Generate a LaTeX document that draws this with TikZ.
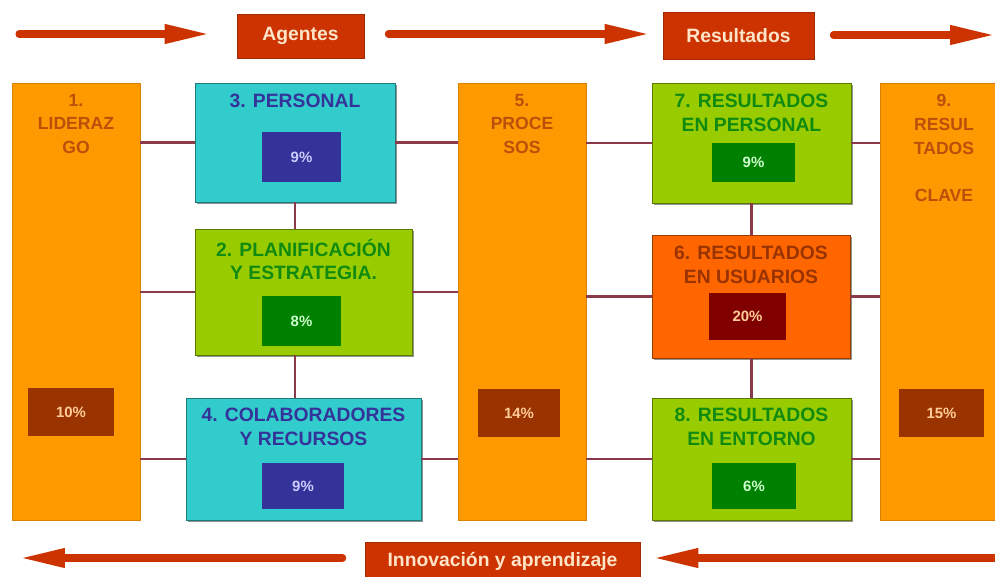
\documentclass[tikz,border=0pt]{standalone}
\usepackage{fontspec}
\setmainfont{Liberation Sans}
\usetikzlibrary{arrows.meta,positioning,shadows}

\definecolor{colorange}{HTML}{FF9900}
\definecolor{coltext}{HTML}{BA500C}
\definecolor{colbrown}{HTML}{993300}
\definecolor{pctlight}{HTML}{FFCC99}
\definecolor{cyanbox}{HTML}{33CCCC}
\definecolor{bluetxt}{HTML}{333399}
\definecolor{bluelight}{HTML}{CCCCFF}
\definecolor{greenbox}{HTML}{99CC00}
\definecolor{greentxt}{HTML}{118A11}
\definecolor{greendark}{HTML}{008000}
\definecolor{greenlight}{HTML}{CCFFCC}
\definecolor{usubox}{HTML}{FF6600}
\definecolor{usudark}{HTML}{800000}
\definecolor{headred}{HTML}{CC3300}
\definecolor{headtext}{HTML}{FFE4C8}
\definecolor{linkred}{HTML}{8B3A4A}

\begin{document}
\begin{tikzpicture}[x=0.02cm, y=-0.02cm,
    column/.style={fill=colorange, draw=colorange!85!black, line width=0.5pt,
                   minimum width=2.56cm, minimum height=8.74cm},
    coltitle/.style={text=coltext, align=center, inner sep=0pt,
                     font=\bfseries\fontsize{10}{13.6}\selectfont},
    block/.style={fill=#1, draw=#1!60!black, line width=0.5pt,
                  drop shadow={shadow xshift=1.2pt, shadow yshift=-1.2pt,
                               fill=black!70, opacity=0.6}},
    title/.style={align=center, inner sep=0pt,
                  font=\bfseries\fontsize{11}{13.6}\selectfont},
    pct/.style={fill=#1, inner sep=0pt, minimum width=1.72cm, minimum height=0.96cm,
                font=\bfseries\fontsize{8.5}{10}\selectfont},
    head/.style={fill=headred, draw=headred!80!black, text=headtext, inner sep=0pt,
                 font=\bfseries\fontsize{11}{13}\selectfont},
    arrow/.style={draw=headred, line width=4pt, line cap=round,
                  -{Triangle[length=0.9cm,width=0.36cm]}},
    link/.style={draw=linkred, line width=1.2pt},
   ]
    \clip (0,0) rectangle (995,576);
    \fill[white] (0,0) rectangle (995,576);

    % Top and bottom bands ---------------------------------------------
    \node[head, minimum width=2.54cm, minimum height=0.88cm] (agentes) at (300.5,36) {Agentes};
    \node[head, minimum width=3.02cm, minimum height=0.94cm] (resultados) at (738.5,36) {Resultados};
    \node[head, minimum width=5.5cm, minimum height=0.76cm] (innov) at (502.5,561) {Innovación y aprendizaje};
    \coordinate (tl) at (19,34);
    \coordinate (tr) at (995,35);
    \coordinate (bl) at (20,558);
    \coordinate (br) at (995,558);
    \draw[arrow] (tl) -- ([xshift=-0.54cm]agentes.west |- tl);
    \draw[arrow] ([xshift=0.48cm]agentes.east |- tl) -- ([xshift=-0.26cm]resultados.west |- tl);
    \draw[arrow] ([xshift=0.38cm]resultados.east |- tr) -- (tr);
    \draw[arrow] ([xshift=-0.44cm]innov.west |- bl) -- (bl);
    \draw[arrow] (br) -- ([xshift=0.26cm]innov.east |- br);

    % Columns 1, 5 and 9 -----------------------------------------------
    \node[column] (lider) at (76,301.5) {};
    \node[coltitle, below=0.22cm of lider.north] (lidert) {1.\\LIDERAZ\\GO};
    \node[pct=colbrown, text=pctlight] (liderp) at (71,412) {10\%};

    \node[column] (proc) at (522,301.5) {};
    \node[coltitle, below=0.22cm of proc.north] (proct) {5.\\PROCE\\SOS};
    \node[pct=colbrown, text=pctlight, minimum width=1.64cm] (procp) at (519,413) {14\%};

    \node[column] (clave) at (944,301.5) {};
    \node[coltitle, below=0.22cm of clave.north] (clavet) {9.\\RESUL\\TADOS\\[13.6pt]CLAVE};
    \node[pct=colbrown, text=pctlight] (clavep) at (941.5,413) {15\%};

    % Agent blocks -----------------------------------------------------
    \node[block=cyanbox, minimum width=4cm, minimum height=2.38cm] (personal) at (295,142.5) {};
    \node[title, text=bluetxt, below=0.22cm of personal.north] (personalt) {3. PERSONAL};
    \node[pct=bluetxt, text=bluelight, minimum width=1.58cm, minimum height=1cm] (personalp) at (301.5,157) {9\%};

    \node[block=greenbox, minimum width=4.34cm, minimum height=2.52cm] (planif) at (303.5,292) {};
    \node[title, text=greentxt, below=0.2cm of planif.north] (planift) {2. PLANIFICACIÓN\\Y ESTRATEGIA.};
    \node[pct=greendark, text=greenlight, minimum width=1.58cm, minimum height=1cm] (planifp) at (301.5,321) {8\%};

    \node[block=cyanbox, minimum width=4.7cm, minimum height=2.44cm] (colab) at (303.5,459) {};
    \node[title, text=bluetxt, below=0.2cm of colab.north] (colabt) {4. COLABORADORES\\Y RECURSOS};
    \node[pct=bluetxt, text=bluelight, minimum width=1.64cm, minimum height=0.92cm] (colabp) at (303,486) {9\%};

    % Result blocks ----------------------------------------------------
    \node[block=greenbox, minimum width=3.98cm, minimum height=2.4cm] (rpers) at (751.5,143) {};
    \node[title, text=greentxt, below=0.22cm of rpers.north] (rperst) {7. RESULTADOS\\EN PERSONAL};
    \node[pct=greendark, text=greenlight, minimum width=1.66cm, minimum height=0.78cm] (rpersp) at (753.5,162.5) {9\%};

    \node[block=usubox, minimum width=3.96cm, minimum height=2.46cm] (rusu) at (751,296.5) {};
    \node[title, text=colbrown, below=0.22cm of rusu.north] (rusut) {6. RESULTADOS\\EN USUARIOS};
    \node[pct=usudark, text=pctlight, minimum width=1.54cm, minimum height=0.94cm] (rusup) at (747.5,316.5) {20\%};

    \node[block=greenbox, minimum width=3.98cm, minimum height=2.44cm] (rent) at (751.5,459) {};
    \node[title, text=greentxt, below=0.2cm of rent.north] (rentt) {8. RESULTADOS\\EN ENTORNO};
    \node[pct=greendark, text=greenlight, minimum width=1.68cm, minimum height=0.92cm] (rentp) at (754,486) {6\%};

    % Links between columns and blocks ---------------------------------
    \draw[link] (lider.east |- personal.west) -- (personal.west);
    \draw[link] (lider.east |- planif.west) -- (planif.west);
    \draw[link] (lider.east |- colab.west) -- (colab.west);
    \draw[link] (personal.east) -- (proc.west |- personal.east);
    \draw[link] (planif.east) -- (proc.west |- planif.east);
    \draw[link] (colab.east) -- (proc.west |- colab.east);
    \draw[link] (personal.south) -- (personal.south |- planif.north);
    \draw[link] (personal.south |- planif.south) -- (personal.south |- colab.north);
    \draw[link] (proc.east |- rpers.west) -- (rpers.west);
    \draw[link] (proc.east |- rusu.west) -- (rusu.west);
    \draw[link] (proc.east |- rent.west) -- (rent.west);
    \draw[link] (rpers.east) -- (clave.west |- rpers.east);
    \draw[link] (rusu.east) -- (clave.west |- rusu.east);
    \draw[link] (rent.east) -- (clave.west |- rent.east);
    \draw[link] (rpers.south) -- (rpers.south |- rusu.north);
    \draw[link] (rpers.south |- rusu.south) -- (rpers.south |- rent.north);
\end{tikzpicture}
\end{document}
